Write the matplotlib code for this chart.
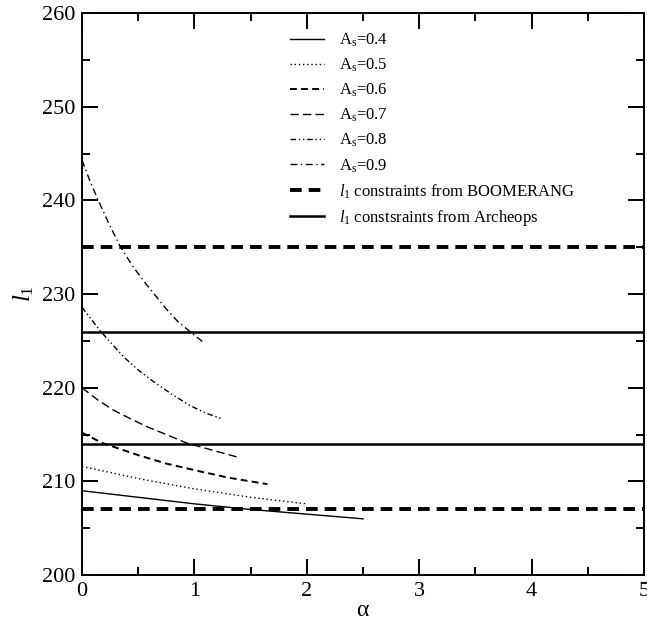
import numpy as np
import matplotlib
matplotlib.use("Agg")
import matplotlib.pyplot as plt

plt.rcParams['font.family'] = ['Liberation Serif', 'DejaVu Serif']
plt.rcParams['mathtext.fontset'] = 'custom'
plt.rcParams['mathtext.rm'] = 'Liberation Serif'
plt.rcParams['mathtext.it'] = 'Liberation Serif:italic'

# curves l_1(alpha) for several A_s
alpha_04 = [0, 0.5, 1.0, 1.5, 2.0, 2.5]
l1_04 = [209.0, 208.3, 207.6, 207.0, 206.5, 206.0]

alpha_05 = [0, 0.5, 1.0, 1.5, 2.0]
l1_05 = [211.6, 210.3, 209.2, 208.3, 207.6]

alpha_06 = [0, 0.18, 0.5, 0.75, 1.0, 1.3, 1.65]
l1_06 = [215.2, 214.1, 212.8, 211.9, 211.2, 210.4, 209.7]

alpha_07 = [0, 0.14, 0.28, 0.43, 0.575, 0.75, 0.93, 1.2, 1.41]
l1_07 = [220.0, 218.7, 217.6, 216.7, 215.85, 215.0, 214.1, 213.2, 212.5]

alpha_08 = [0, 0.16, 0.37, 0.5, 0.63, 0.8, 0.96, 1.1, 1.24]
l1_08 = [228.6, 226.1, 223.3, 221.9, 220.7, 219.3, 218.1, 217.3, 216.7]

alpha_09 = [0, 0.07, 0.145, 0.24, 0.34, 0.45, 0.575, 0.75, 0.85, 0.96, 1.09]
l1_09 = [244.3, 242.1, 240.0, 237.5, 235.1, 233.0, 231.0, 228.4, 227.1, 226.0, 224.75]

# constraints on l_1
boomerang = [207, 235]
archeops = [214, 226]

fig = plt.figure(figsize=(6.47, 6.24), dpi=100)
ax = fig.add_axes([0.1267, 0.0785, 0.8687, 0.9005])

lw = 1.0
ax.plot(alpha_04, l1_04, color='black', lw=lw, ls='-', label=r'A$_\mathrm{s}$=0.4')
ax.plot(alpha_05, l1_05, color='black', lw=lw, ls=(0, (1, 2)), label=r'A$_\mathrm{s}$=0.5')
ax.plot(alpha_06, l1_06, color='black', lw=1.4, ls=(0, (3.5, 2.2)), label=r'A$_\mathrm{s}$=0.6')
ax.plot(alpha_07, l1_07, color='black', lw=lw, ls=(0, (6, 3)), label=r'A$_\mathrm{s}$=0.7')
ax.plot(alpha_08, l1_08, color='black', lw=lw, ls=(0, (4, 2, 1, 2, 1, 2)), label=r'A$_\mathrm{s}$=0.8')
ax.plot(alpha_09, l1_09, color='black', lw=lw, ls=(0, (5, 2.5, 1, 2.5)), label=r'A$_\mathrm{s}$=0.9')

for i, v in enumerate(boomerang):
    ax.axhline(v, color='black', lw=2.8, ls=(0, (3, 1.8)),
               label=r'$l_1$ constraints from BOOMERANG' if i == 0 else None)
for i, v in enumerate(archeops):
    ax.axhline(v, color='black', lw=1.8, ls='-',
               label=r'$l_1$ constsraints from Archeops' if i == 0 else None)

ax.set_xlim(0, 5)
ax.set_ylim(200, 260)
ax.set_xticks(np.arange(0, 6, 1))
ax.set_xticks(np.arange(0, 5.01, 0.5), minor=True)
ax.set_yticks(np.arange(200, 261, 10))
ax.set_yticks(np.arange(200, 261, 5), minor=True)
ax.tick_params(which='both', direction='in', top=True, right=True, width=1.4, labelsize=16)
ax.tick_params(which='major', length=11.5, pad=5)
ax.tick_params(which='minor', length=5.8)
for s in ax.spines.values():
    s.set_linewidth(1.4)

ax.set_xlabel(r'$\mathrm{\alpha}$', fontsize=17, labelpad=-1)
ax.set_ylabel(r'$l_1$', fontsize=18, labelpad=4)

ax.legend(loc='upper left', bbox_to_anchor=(0.356, 0.9815), frameon=False,
          fontsize=12, handlelength=2.0, handletextpad=0.9, labelspacing=0.46,
          borderpad=0)

fig.savefig('out.png', dpi=100)
